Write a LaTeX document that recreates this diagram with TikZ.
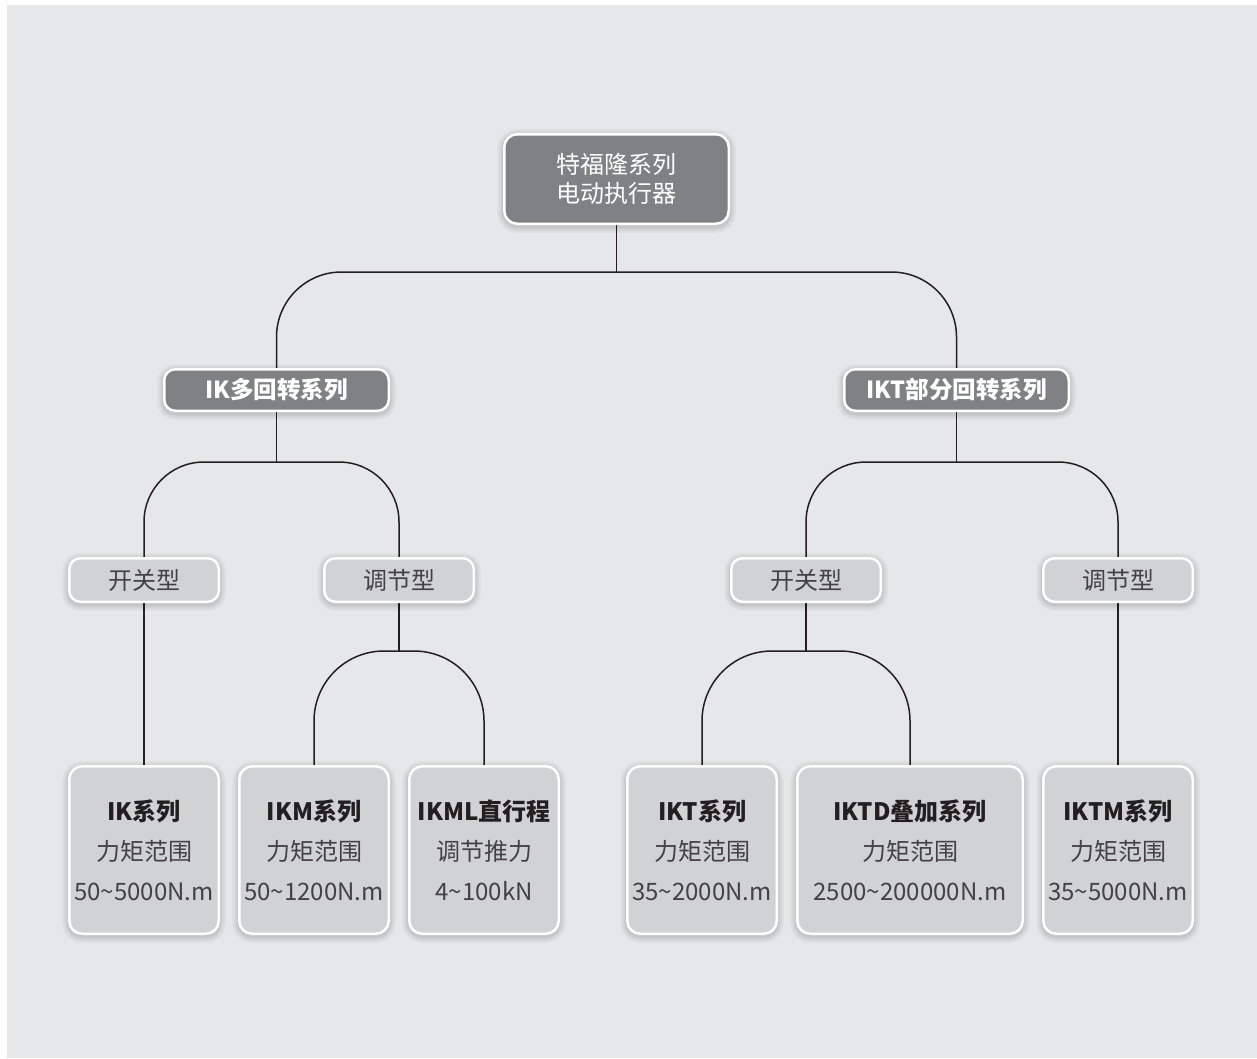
\documentclass[tikz,border=0pt]{standalone}
\usepackage{fontspec}
\setmainfont{Noto Sans CJK SC}
\definecolor{bgc}{HTML}{E6E7E8}
\definecolor{darkbox}{HTML}{808184}
\definecolor{lightbox}{HTML}{D1D2D4}
\definecolor{ink}{HTML}{231F20}
\pgfdeclarelayer{bg}
\pgfsetlayers{bg,main}
\tikzset{
  halo/.style={preaction={draw=black, draw opacity=0.035, line width=#1, transform canvas={yshift=-2pt}}},
  boxbase/.style={draw=white, line width=2.5pt, rounded corners=13pt, align=center, inner sep=0pt,
    halo=14pt, halo=10pt, halo=7pt, halo=4.5pt},
  rootbox/.style={boxbase, fill=darkbox, text=white, minimum width=224.5pt, minimum height=89.5pt,
    font=\fontsize{24}{29}\selectfont},
  seriesbox/.style={boxbase, fill=darkbox, text=white, minimum width=224.5pt, minimum height=41.5pt,
    rounded corners=11pt, font=\fontsize{23.5}{26}\selectfont\bfseries},
  typebox/.style={boxbase, fill=lightbox, text=ink!85, minimum width=149.5pt, minimum height=43.5pt,
    rounded corners=11pt, font=\fontsize{24}{26}\selectfont},
  prodbox/.style={boxbase, fill=lightbox, text=ink!85, minimum width=149.5pt, minimum height=167.5pt,
    font=\fontsize{24}{40}\selectfont},
  conn/.style={draw=ink, line width=1.5pt},
}
\newcommand{\bt}[1]{{\bfseries\color{ink}#1}}
\begin{document}
\begin{tikzpicture}[x=1pt,y=-1pt]
\begin{pgfonlayer}{bg}
  \fill[white] (0,0) rectangle (1257,1058);
  \fill[bgc] (7,5) rectangle (1257,1058);
\end{pgfonlayer}
\useasboundingbox (0,0) rectangle (1257,1058);

\node[rootbox] (root) at (616.5,179) {特福隆系列\\电动执行器};
\node[seriesbox] (ik) at (276.5,390) {IK多回转系列};
\node[seriesbox] (ikt) at (956.5,390) {IKT部分回转系列};

\node[typebox] (s1) at (144,580) {开关型};
\node[typebox] (t1) at (399,580) {调节型};
\node[typebox] (s2) at (806,580) {开关型};
\node[typebox] (t2) at (1118,580) {调节型};

\node[prodbox] (b1) at (144,850) {\bt{IK系列}\\力矩范围\\50\textasciitilde5000N.m};
\node[prodbox] (b2) at (314,850) {\bt{IKM系列}\\力矩范围\\50\textasciitilde1200N.m};
\node[prodbox] (b3) at (484,850) {\bt{IKML直行程}\\调节推力\\4\textasciitilde100kN};
\node[prodbox] (b4) at (702,850) {\bt{IKT系列}\\力矩范围\\35\textasciitilde2000N.m};
\node[prodbox, minimum width=225.5pt] (b5) at (910,850) {\bt{IKTD叠加系列}\\力矩范围\\2500\textasciitilde200000N.m};
\node[prodbox] (b6) at (1118,850) {\bt{IKTM系列}\\力矩范围\\35\textasciitilde5000N.m};

\coordinate (c1) at (0,272);
\coordinate (c2) at (0,462);
\coordinate (c3) at (0,651);

\begin{pgfonlayer}{bg}
  \draw[conn] (root.south) -- (root.south |- c1);
  \draw[conn, rounded corners=65pt] (ik.north) -- (ik.north |- c1) -- (ikt.north |- c1) -- (ikt.north);

  \draw[conn] (ik.south) -- (ik.south |- c2);
  \draw[conn, rounded corners=60pt] (s1.north) -- (s1.north |- c2) -- (t1.north |- c2) -- (t1.north);
  \draw[conn] (ikt.south) -- (ikt.south |- c2);
  \draw[conn, rounded corners=60pt] (s2.north) -- (s2.north |- c2) -- (t2.north |- c2) -- (t2.north);

  \draw[conn] (s1.south) -- (b1.north);
  \draw[conn] (t1.south) -- (t1.south |- c3);
  \draw[conn, rounded corners=70pt] (b2.north) -- (b2.north |- c3) -- (b3.north |- c3) -- (b3.north);
  \draw[conn] (s2.south) -- (s2.south |- c3);
  \draw[conn, rounded corners=70pt] (b4.north) -- (b4.north |- c3) -- (b5.north |- c3) -- (b5.north);
  \draw[conn] (t2.south) -- (b6.north);
\end{pgfonlayer}
\end{tikzpicture}
\end{document}
